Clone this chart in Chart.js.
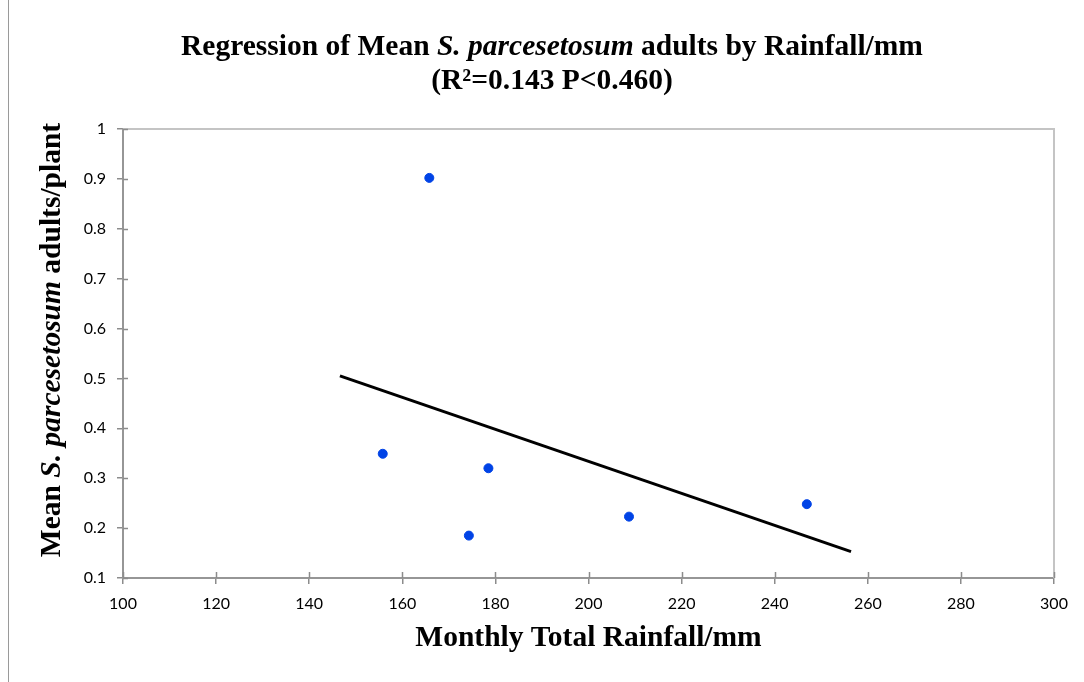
<!DOCTYPE html>
<html>
<head>
<meta charset="utf-8">
<script src="https://cdn.jsdelivr.net/npm/chart.js@4/dist/chart.umd.min.js"></script>
<style>
  body { margin: 0; background: #fff; }
  #wrap { position: relative; width: 1084px; height: 682px; }
</style>
</head>
<body>
<div id="wrap"><canvas id="rainChart" width="1084" height="682"></canvas></div>
<script>
// rainfall (mm) vs mean adults/plant
const rainfall = [155.8, 165.8, 174.3, 178.5, 208.7, 246.9];
const adults = [0.349, 0.902, 0.185, 0.320, 0.223, 0.248];

// fitted trend line end points
const trendX = [146.6, 256.4];
const trendY = [0.505, 0.153];

const xTicks = [100, 120, 140, 160, 180, 200, 220, 240, 260, 280, 300];
const yTicks = [0.1, 0.2, 0.3, 0.4, 0.5, 0.6, 0.7, 0.8, 0.9, 1];

const serif = '"Liberation Serif", "Times New Roman", serif';

// draw a line of text made of plain / italic pieces, centred at x
function drawMixed(ctx, parts, x, y, size) {
    const fontFor = p => (p.italic ? 'italic ' : '') + 'bold ' + size + 'px ' + serif;
    let total = 0;
    parts.forEach(p => { ctx.font = fontFor(p); total += ctx.measureText(p.text).width; });
    let cx = x - total / 2;
    ctx.textAlign = 'left';
    ctx.textBaseline = 'middle';
    parts.forEach(p => {
        ctx.font = fontFor(p);
        ctx.fillText(p.text, cx, y);
        cx += ctx.measureText(p.text).width;
    });
}

const decor = {
    id: 'decor',
    beforeDatasetsDraw(chart) {
        const { ctx, chartArea: a, scales } = chart;
        ctx.save();
        // light frame on top and right
        ctx.strokeStyle = '#c4c4c4';
        ctx.lineWidth = 2;
        ctx.beginPath();
        ctx.moveTo(a.left, a.top);
        ctx.lineTo(a.right, a.top);
        ctx.lineTo(a.right, a.bottom);
        ctx.stroke();
        // inner half of tick marks
        ctx.strokeStyle = '#8c8c8c';
        ctx.lineWidth = 1.5;
        ctx.beginPath();
        xTicks.forEach(v => {
            const px = Math.round(scales.x.getPixelForValue(v)) + 0.5;
            ctx.moveTo(px, a.bottom);
            ctx.lineTo(px, a.bottom - 6);
        });
        yTicks.forEach(v => {
            const py = Math.round(scales.y.getPixelForValue(v)) + 0.5;
            ctx.moveTo(a.left, py);
            ctx.lineTo(a.left + 5, py);
        });
        ctx.stroke();
        ctx.restore();
    },
    afterDraw(chart) {
        const { ctx, chartArea: a } = chart;
        ctx.save();
        // outer chart frame (left edge only visible)
        ctx.strokeStyle = '#9a9a9a';
        ctx.lineWidth = 1;
        ctx.beginPath();
        ctx.moveTo(8.5, 0);
        ctx.lineTo(8.5, 682);
        ctx.stroke();

        ctx.fillStyle = '#000';
        drawMixed(ctx, [
            { text: 'Regression of Mean ' },
            { text: 'S. parcesetosum', italic: true },
            { text: ' adults by Rainfall/mm' }
        ], 552, 47, 29.5);
        drawMixed(ctx, [{ text: '(R\u00b2=0.143 P<0.460)' }], 552, 81, 29.5);

        drawMixed(ctx, [{ text: 'Monthly Total Rainfall/mm' }], (a.left + a.right) / 2, 638, 29.5);

        ctx.translate(52, 340);
        ctx.rotate(-Math.PI / 2);
        drawMixed(ctx, [
            { text: 'Mean ' },
            { text: 'S. parcesetosum', italic: true },
            { text: ' adults/plant' }
        ], 0, 0, 29.5);
        ctx.restore();
    }
};

new Chart(document.getElementById('rainChart'), {
    type: 'scatter',
    data: {
        datasets: [{
            label: 'Adults',
            data: rainfall.map((x, i) => ({ x: x, y: adults[i] })),
            backgroundColor: '#0043e6',
            borderColor: '#0043e6',
            pointRadius: 4.5,
            pointHoverRadius: 4.5
        }, {
            label: 'Trend',
            data: trendX.map((x, i) => ({ x: x, y: trendY[i] })),
            showLine: true,
            borderColor: '#000',
            borderWidth: 3,
            pointRadius: 0,
            fill: false
        }]
    },
    options: {
        responsive: false,
        animation: false,
        events: [],
        layout: { padding: { left: 0, top: 129, right: 30, bottom: 0 } },
        plugins: { legend: { display: false }, title: { display: false }, tooltip: { enabled: false } },
        scales: {
            x: {
                type: 'linear',
                min: 100,
                max: 300,
                afterBuildTicks: s => { s.ticks = xTicks.map(v => ({ value: v })); },
                afterFit: s => { s.height = 104; },
                grid: { drawOnChartArea: false, color: '#8c8c8c', tickLength: 6, lineWidth: 1.5 },
                border: { color: '#969696', width: 2 },
                ticks: { color: '#000', padding: 10, font: { family: 'Lato', size: 16 } }
            },
            y: {
                type: 'linear',
                min: 0.1,
                max: 1,
                afterBuildTicks: s => { s.ticks = yTicks.map(v => ({ value: v })); },
                afterFit: s => { s.width = 123; },
                grid: { drawOnChartArea: false, color: '#8c8c8c', tickLength: 6, lineWidth: 1.5 },
                border: { color: '#969696', width: 2 },
                ticks: {
                    color: '#000', padding: 11, font: { family: 'Lato', size: 16 },
                    callback: v => String(Math.round(v * 10) / 10)
                }
            }
        }
    },
    plugins: [decor]
});
</script>
</body>
</html>
